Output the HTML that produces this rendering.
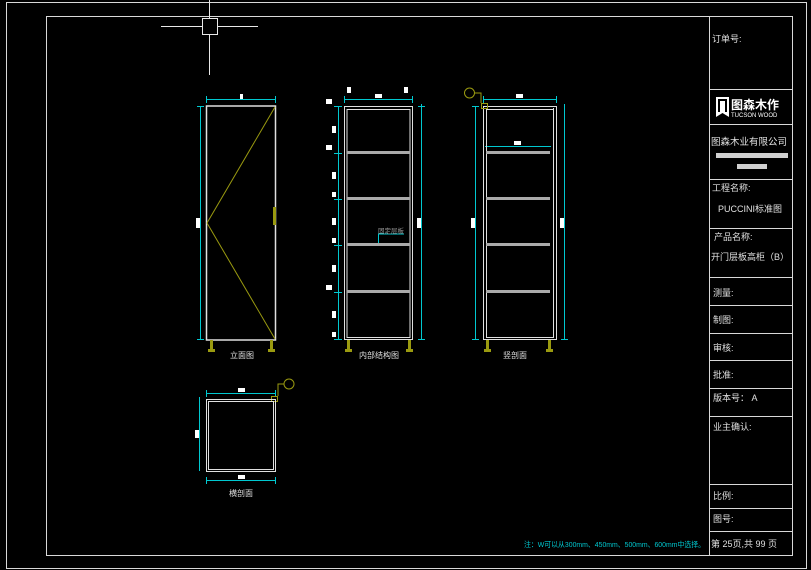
<!DOCTYPE html>
<html><head><meta charset="utf-8"><style>
html,body{margin:0;padding:0;background:#000;}
svg{display:block}
text{font-family:"Liberation Sans","Noto Sans CJK SC",sans-serif;}
</style></head><body>
<svg width="811" height="570" viewBox="0 0 811 570" xmlns="http://www.w3.org/2000/svg">
<rect width="811" height="570" fill="#000"/>
<g fill="none" stroke="#d8d8d8" stroke-width="1">
<rect x="6.5" y="2.5" width="800" height="566"/>
<rect x="46.5" y="16.5" width="746" height="539"/>
<line x1="709.5" y1="16" x2="709.5" y2="555"/>
<line x1="709" y1="89.5" x2="792" y2="89.5"/>
<line x1="709" y1="124.5" x2="792" y2="124.5"/>
<line x1="709" y1="179.5" x2="792" y2="179.5"/>
<line x1="709" y1="228.5" x2="792" y2="228.5"/>
<line x1="709" y1="277.5" x2="792" y2="277.5"/>
<line x1="709" y1="305.5" x2="792" y2="305.5"/>
<line x1="709" y1="333.5" x2="792" y2="333.5"/>
<line x1="709" y1="360.5" x2="792" y2="360.5"/>
<line x1="709" y1="388.5" x2="792" y2="388.5"/>
<line x1="709" y1="416.5" x2="792" y2="416.5"/>
<line x1="709" y1="484.5" x2="792" y2="484.5"/>
<line x1="709" y1="508.5" x2="792" y2="508.5"/>
<line x1="709" y1="531.5" x2="792" y2="531.5"/>
</g>
<g fill="#e0e0e0" font-size="9">
<text x="712" y="42">订单号:</text>
<text x="711" y="145" font-size="9.5">图森木业有限公司</text>
<text x="712" y="191">工程名称:</text>
<text x="718" y="212">PUCCINI标准图</text>
<text x="714" y="240">产品名称:</text>
<text x="711" y="260">开门层板高柜（B）</text>
<text x="713" y="296">测量:</text>
<text x="713" y="323">制图:</text>
<text x="713" y="351">审核:</text>
<text x="713" y="378">批准:</text>
<text x="713" y="401">版本号： A</text>
<text x="713" y="430">业主确认:</text>
<text x="713" y="499">比例:</text>
<text x="713" y="522">图号:</text>
<text x="711" y="547">第 25页,共 99 页</text>
</g>
<g fill="#d0d0d0">
<rect x="716" y="153" width="72" height="5"/><rect x="737" y="164" width="30" height="5"/>
</g>
<g>
<path d="M716 97h13v20l-6.5-4-6.5 4z" fill="#fff"/>
<rect x="718" y="100" width="2" height="12" fill="#000"/><rect x="725" y="100" width="2" height="12" fill="#000"/><rect x="718" y="99" width="9" height="2" fill="#000"/>
<text x="731" y="109" fill="#fff" font-size="12" font-weight="bold">图森木作</text>
<text x="731" y="117" fill="#fff" font-size="6">TUCSON WOOD</text>
</g>
<g stroke="#e8e8e8" stroke-width="1" fill="none">
<line x1="161" y1="26.5" x2="202" y2="26.5"/><line x1="217" y1="26.5" x2="258" y2="26.5"/>
<line x1="209.5" y1="0" x2="209.5" y2="18"/><line x1="209.5" y1="34" x2="209.5" y2="75"/>
<rect x="202.5" y="18.5" width="15" height="16"/>
</g>
<g fill="none" stroke="#e0e0e0" stroke-width="1.5">
<rect x="206.5" y="106" width="69" height="234"/>
</g>
<g stroke="#9a9a10" stroke-width="1" fill="none">
<line x1="207" y1="223" x2="275" y2="107"/><line x1="207" y1="223" x2="275" y2="339"/>
</g>
<rect x="273" y="207" width="3" height="18" fill="#9a9a10"/>
<g fill="#9a9a10">
<rect x="210" y="340" width="3" height="10"/><rect x="208" y="349" width="7" height="3"/>
<rect x="270" y="340" width="3" height="10"/><rect x="268" y="349" width="7" height="3"/>
<rect x="347" y="340" width="3" height="10"/><rect x="345" y="349" width="7" height="3"/>
<rect x="408" y="340" width="3" height="10"/><rect x="406" y="349" width="7" height="3"/>
<rect x="486" y="340" width="3" height="10"/><rect x="484" y="349" width="7" height="3"/>
<rect x="548" y="340" width="3" height="10"/><rect x="546" y="349" width="7" height="3"/>
</g>
<g stroke="#00c8d0" stroke-width="1" fill="none">
<line x1="206" y1="99.5" x2="276" y2="99.5"/><line x1="206.5" y1="96" x2="206.5" y2="103"/><line x1="275.5" y1="96" x2="275.5" y2="103"/>
<line x1="200.5" y1="106" x2="200.5" y2="340"/><line x1="197" y1="106.5" x2="204" y2="106.5"/><line x1="197" y1="339.5" x2="204" y2="339.5"/>
<line x1="344" y1="99.5" x2="413" y2="99.5"/><line x1="344.5" y1="96" x2="344.5" y2="103"/><line x1="412.5" y1="96" x2="412.5" y2="103"/>
<line x1="338.5" y1="106" x2="338.5" y2="340"/><line x1="421.5" y1="104" x2="421.5" y2="340"/>
<line x1="334" y1="106.5" x2="342" y2="106.5"/><line x1="334" y1="153.5" x2="342" y2="153.5"/><line x1="334" y1="199.5" x2="342" y2="199.5"/><line x1="334" y1="245.5" x2="342" y2="245.5"/><line x1="334" y1="292.5" x2="342" y2="292.5"/><line x1="334" y1="339.5" x2="342" y2="339.5"/>
<line x1="418" y1="106.5" x2="425" y2="106.5"/><line x1="418" y1="339.5" x2="425" y2="339.5"/>
<polyline points="378.5,246 378.5,234 404,234"/>
<line x1="483" y1="99.5" x2="557" y2="99.5"/><line x1="483.5" y1="96" x2="483.5" y2="103"/><line x1="556.5" y1="96" x2="556.5" y2="103"/>
<line x1="475.5" y1="106" x2="475.5" y2="340"/><line x1="564.5" y1="104" x2="564.5" y2="340"/>
<line x1="472" y1="106.5" x2="479" y2="106.5"/><line x1="472" y1="339.5" x2="479" y2="339.5"/><line x1="561" y1="339.5" x2="568" y2="339.5"/>
<line x1="485" y1="146.5" x2="551" y2="146.5"/>
<line x1="206" y1="393.5" x2="276" y2="393.5"/><line x1="206.5" y1="390" x2="206.5" y2="397"/><line x1="275.5" y1="390" x2="275.5" y2="397"/>
<line x1="206" y1="480.5" x2="276" y2="480.5"/><line x1="206.5" y1="477" x2="206.5" y2="484"/><line x1="275.5" y1="477" x2="275.5" y2="484"/>
<line x1="199.5" y1="397" x2="199.5" y2="471"/>
</g>
<text x="378" y="233" fill="#9a9a9a" font-size="6.5">固定层板</text>
<g fill="#fff">
<rect x="240" y="94" width="3" height="5"/><rect x="196" y="218" width="4" height="10"/>
<rect x="375" y="94" width="7" height="4"/><rect x="347" y="87" width="4" height="6"/><rect x="404" y="87" width="4" height="6"/>
<rect x="516" y="94" width="7" height="4"/><rect x="514" y="141" width="7" height="4"/>
<rect x="471" y="218" width="4" height="10"/><rect x="560" y="218" width="4" height="10"/><rect x="417" y="218" width="4" height="10"/>
<rect x="326" y="99" width="6" height="5"/><rect x="332" y="126" width="4" height="7"/><rect x="326" y="145" width="6" height="5"/><rect x="332" y="172" width="4" height="7"/><rect x="332" y="192" width="4" height="5"/><rect x="332" y="218" width="4" height="7"/><rect x="332" y="238" width="4" height="5"/><rect x="332" y="265" width="4" height="7"/><rect x="326" y="285" width="6" height="5"/><rect x="332" y="311" width="4" height="7"/><rect x="332" y="332" width="4" height="5"/>
<rect x="238" y="388" width="7" height="4"/><rect x="238" y="475" width="7" height="4"/><rect x="195" y="430" width="4" height="8"/>
</g>
<g fill="none" stroke="#e0e0e0" stroke-width="1">
<rect x="344.5" y="106.5" width="68" height="233"/>
<line x1="347" y1="109" x2="347" y2="338"/><line x1="410" y1="109" x2="410" y2="338"/>
<line x1="347" y1="109.5" x2="410" y2="109.5"/><line x1="347" y1="337.5" x2="410" y2="337.5"/>
</g>
<g fill="#aaa">
<rect x="347" y="151" width="63" height="3"/><rect x="347" y="197" width="63" height="3"/><rect x="347" y="243" width="63" height="3"/><rect x="347" y="290" width="63" height="3"/>
</g>
<g fill="none" stroke="#e0e0e0" stroke-width="1">
<rect x="483.5" y="106.5" width="73" height="233"/>
<line x1="553.5" y1="108" x2="553.5" y2="338"/>
<line x1="486.5" y1="108" x2="486.5" y2="338"/>
<line x1="486" y1="109.5" x2="553" y2="109.5"/><line x1="486" y1="337.5" x2="553" y2="337.5"/>
</g>
<g fill="#aaa">
<rect x="486" y="151" width="64" height="3"/><rect x="486" y="197" width="64" height="3"/><rect x="486" y="243" width="64" height="3"/><rect x="486" y="290" width="64" height="3"/>
</g>
<g stroke="#9a9a10" fill="none" stroke-width="1">
<circle cx="469.5" cy="93" r="5"/><polyline points="474,93 481,93 481,103"/><rect x="481.5" y="103.5" width="6" height="5"/>
<circle cx="289" cy="384" r="5"/><polyline points="284,384 278,384 278,396"/><rect x="271.5" y="396.5" width="6" height="5"/>
</g>
<g fill="none" stroke="#e0e0e0" stroke-width="1">
<rect x="206.5" y="399.5" width="69" height="72"/>
<rect x="208.5" y="401.5" width="65" height="68"/>
</g>
<g fill="#e0e0e0" font-size="8" text-anchor="middle">
<text x="242" y="358">立面图</text>
<text x="379" y="358">内部结构图</text>
<text x="515" y="358">竖剖面</text>
<text x="241" y="496">横剖面</text>
</g>
<text x="524" y="547" fill="#00c8d0" font-size="7.5" textLength="181" lengthAdjust="spacingAndGlyphs">注：W可以从300mm、450mm、500mm、600mm中选择。</text>
</svg>
</body></html>
